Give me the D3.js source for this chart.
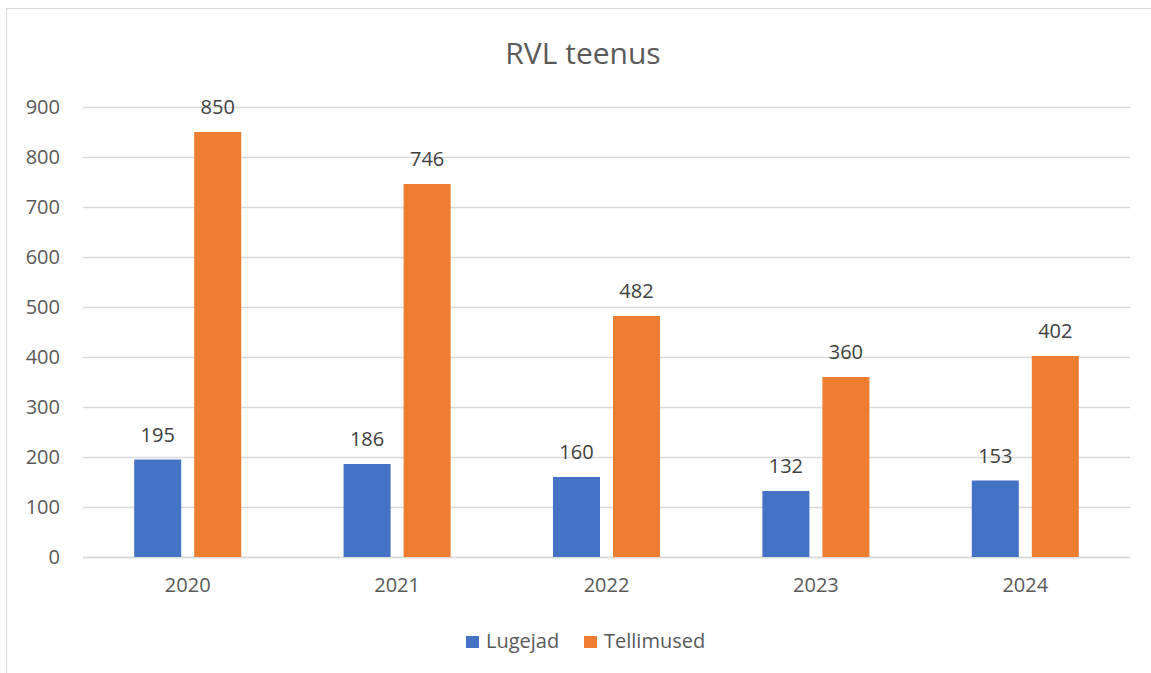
<!DOCTYPE html>
<html lang="et">
<head>
  <meta charset="utf-8">
  <title>RVL teenus</title>
  <script src="https://cdn.jsdelivr.net/npm/d3@7/dist/d3.min.js"></script>
  <style>
    body { margin: 0; background: #fff; }
    text { font-family: "Open Sans", "Noto Sans", sans-serif; }
  </style>
</head>
<body>
  <svg id="chart"></svg>
  <script>
    // chart data
    var years = ["2020", "2021", "2022", "2023", "2024"];
    var seriesNames = ["Lugejad", "Tellimused"];
    var lugejad = [195, 186, 160, 132, 153];
    var tellimused = [850, 746, 482, 360, 402];
    var yTicks = [0, 100, 200, 300, 400, 500, 600, 700, 800, 900];
    var colors = ["#4472C4", "#ED7D31"];

    var w = 1151, h = 673;
    var plotLeft = 83, plotRight = 1130, plotTop = 107, plotBottom = 557;

    var svg = d3.select("#chart").attr("width", w).attr("height", h);

    // outer frame
    svg.append("rect")
      .attr("x", 6.5).attr("y", 8.5)
      .attr("width", 1160).attr("height", 700)
      .attr("fill", "none").attr("stroke", "#d9d9d9");

    var x0 = d3.scaleBand().domain(years).range([plotLeft, plotRight]);
    var x1 = d3.scaleBand().domain(seriesNames)
      .range([0, x0.bandwidth()])
      .paddingInner(13 / 60)
      .paddingOuter(0.853);
    var y = d3.scaleLinear().domain([0, 900]).range([plotBottom, plotTop]);

    // gridlines + y labels
    var yAxis = d3.axisLeft(y).tickValues(yTicks)
      .tickSize(-(plotRight - plotLeft)).tickPadding(23);
    var gy = svg.append("g")
      .attr("transform", "translate(" + plotLeft + ",0)")
      .call(yAxis);
    gy.select(".domain").remove();
    gy.selectAll(".tick line").attr("stroke", "#d9d9d9").attr("stroke-width", 1.3);
    gy.selectAll(".tick text")
      .attr("fill", "#595959").style("font-size", "20px");

    // x labels
    var xAxis = d3.axisBottom(x0).tickSize(0).tickPadding(21);
    var gx = svg.append("g")
      .attr("transform", "translate(0," + plotBottom + ")")
      .call(xAxis);
    gx.select(".domain").attr("stroke", "#d9d9d9").attr("stroke-width", 1.3);
    gx.selectAll(".tick text")
      .attr("fill", "#595959").style("font-size", "20px");

    var rows = years.map(function(yr, i) {
      return { year: yr, values: [lugejad[i], tellimused[i]] };
    });

    var groups = svg.selectAll(".grp")
      .data(rows)
      .enter().append("g")
      .attr("class", "grp")
      .attr("transform", function(d) { return "translate(" + x0(d.year) + ",0)"; });

    groups.selectAll("rect")
      .data(function(d) {
        return d.values.map(function(v, k) { return { key: seriesNames[k], value: v, k: k }; });
      })
      .enter().append("rect")
      .attr("x", function(d) { return x1(d.key); })
      .attr("y", function(d) { return y(d.value); })
      .attr("width", x1.bandwidth())
      .attr("height", function(d) { return plotBottom - y(d.value); })
      .attr("fill", function(d) { return colors[d.k]; });

    groups.selectAll(".lbl")
      .data(function(d) {
        return d.values.map(function(v, k) { return { key: seriesNames[k], value: v }; });
      })
      .enter().append("text")
      .attr("class", "lbl")
      .attr("x", function(d) { return x1(d.key) + x1.bandwidth() / 2; })
      .attr("y", function(d) { return y(d.value) - 18; })
      .attr("text-anchor", "middle")
      .attr("fill", "#404040")
      .style("font-size", "20px")
      .text(function(d) { return d.value; });

    // title
    svg.append("text")
      .attr("x", 583).attr("y", 64)
      .attr("text-anchor", "middle")
      .attr("fill", "#595959")
      .style("font-size", "30px")
      .text("RVL teenus");

    // legend
    var legendX = [466, 584];
    var leg = svg.selectAll(".leg")
      .data(seriesNames)
      .enter().append("g")
      .attr("class", "leg")
      .attr("transform", function(d, i) { return "translate(" + legendX[i] + ",636)"; });
    leg.append("rect")
      .attr("width", 13).attr("height", 12)
      .attr("fill", function(d, i) { return colors[i]; });
    leg.append("text")
      .attr("x", 20).attr("y", 12)
      .attr("fill", "#595959")
      .style("font-size", "20px")
      .text(function(d) { return d; });
  </script>
</body>
</html>
